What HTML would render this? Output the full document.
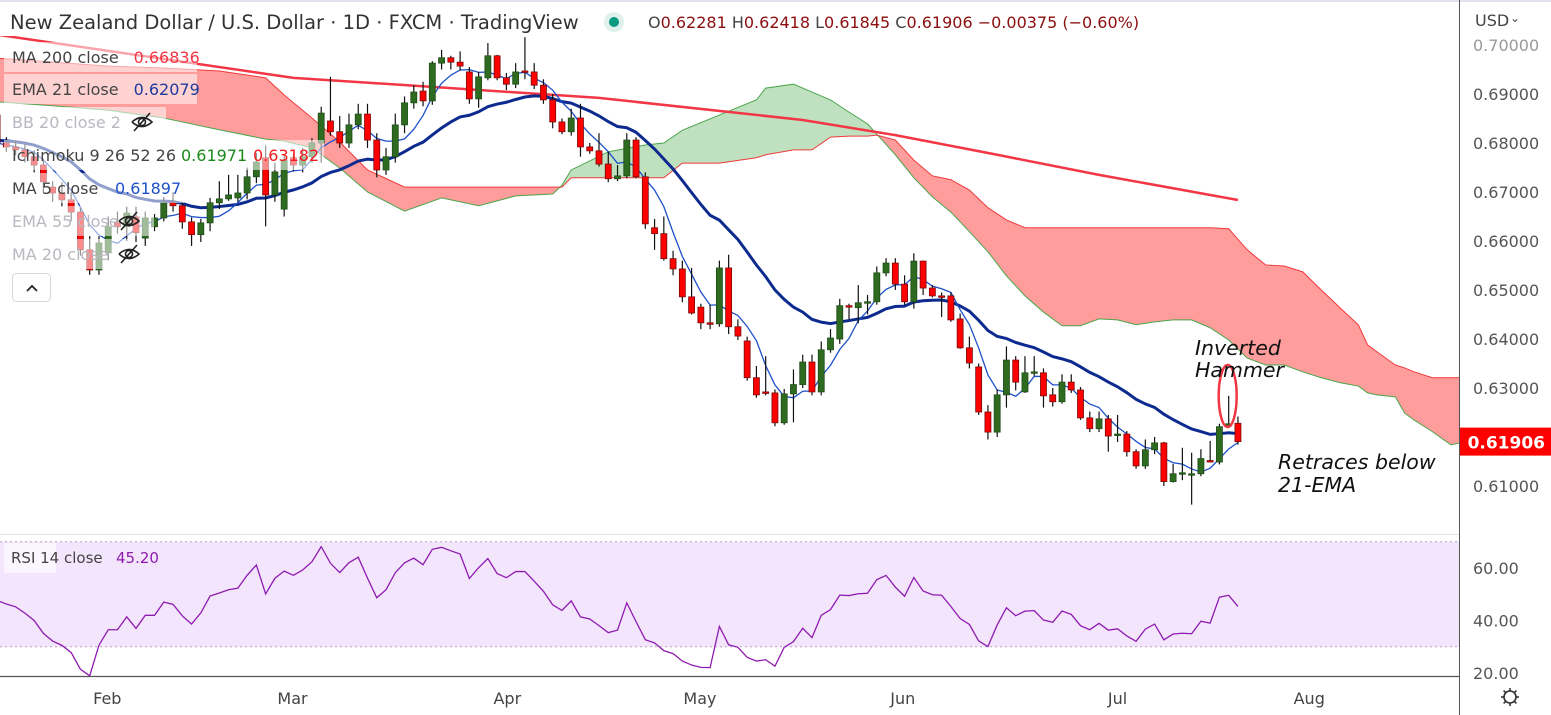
<!DOCTYPE html>
<html><head><meta charset="utf-8">
<style>
html,body{margin:0;padding:0;background:#fff;}
body{width:1551px;height:715px;overflow:hidden;position:relative;font-family:"Liberation Sans",sans-serif;}
svg{position:absolute;left:0;top:0;}
text{font-family:"DejaVu Sans","Liberation Sans",sans-serif;}
</style></head>
<body>
<svg id="chart" width="1551" height="715" viewBox="0 0 1551 715"></svg>
<script>
// ---------- DATA ----------
const opens = [.6857,.6800,.6792,.6786,.6772,.6755,.6710,.6698,.6684,.6659,.6582,.6541,.6576,.6637,.6629,.6649,.6606,.6629,.6647,.6678,.6672,.6639,.6613,.6637,.6678,.6686,.6688,.6698,.6731,.6770,.6694,.6665,.6770,.6755,.6772,.6800,.6845,.6823,.6800,.6837,.6859,.6806,.6745,.6772,.6837,.6882,.6906,.6886,.6963,.6974,.6965,.6945,.6890,.6933,.6978,.6933,.6920,.6947,.6945,.6918,.6888,.6843,.6823,.6851,.6792,.6784,.6757,.6727,.6733,.6806,.6731,.6627,.6615,.6564,.6543,.6486,.6465,.6433,.6431,.6545,.6425,.6396,.6321,.6292,.6290,.6229,.6288,.6307,.6353,.6292,.6378,.6400,.6468,.6464,.6474,.6476,.6535,.6555,.6512,.6476,.6559,.6504,.6488,.6488,.6441,.6382,.6343,.6251,.6210,.6286,.6357,.6292,.6331,.6331,.6286,.6272,.6312,.6296,.6239,.6217,.6237,.6204,.6206,.6170,.6141,.6174,.6188,.6109,.6127,.6125,.6125,.6152,.6149,.6223,.6228];
const closes = [.6800,.6792,.6786,.6772,.6755,.6721,.6698,.6684,.6659,.6582,.6541,.6596,.6629,.6629,.6657,.6617,.6647,.6647,.6678,.6672,.6639,.6613,.6637,.6678,.6686,.6694,.6698,.6731,.6761,.6694,.6741,.6765,.6755,.6772,.6800,.6861,.6823,.6800,.6837,.6859,.6806,.6745,.6772,.6837,.6882,.6904,.6886,.6963,.6974,.6965,.6957,.6890,.6935,.6978,.6933,.6920,.6945,.6945,.6918,.6888,.6843,.6823,.6851,.6792,.6784,.6757,.6727,.6733,.6806,.6731,.6635,.6615,.6564,.6543,.6486,.6453,.6433,.6431,.6545,.6425,.6406,.6321,.6286,.6290,.6229,.6288,.6307,.6353,.6292,.6378,.6402,.6468,.6466,.6474,.6476,.6535,.6555,.6512,.6476,.6559,.6504,.6488,.6486,.6439,.6382,.6351,.6251,.6210,.6286,.6357,.6312,.6331,.6333,.6284,.6272,.6312,.6296,.6239,.6217,.6237,.6202,.6206,.6170,.6141,.6174,.6188,.6109,.6125,.6127,.6125,.6156,.6149,.6221,.6227,.61906];
const highs = [.6870,.6812,.6805,.6798,.6785,.6768,.6722,.6720,.6700,.6668,.6610,.6610,.6650,.6660,.6670,.6670,.6660,.6655,.6690,.6700,.6680,.6648,.6645,.6688,.6722,.6735,.6735,.6750,.6780,.6795,.6760,.6775,.6778,.6790,.6810,.6874,.6935,.6855,.6860,.6880,.6880,.6820,.6790,.6860,.6895,.6918,.6925,.6967,.6990,.6978,.6987,.6955,.6945,.7004,.6980,.6943,.6963,.7016,.6963,.6930,.6900,.6850,.6870,.6880,.6800,.6820,.6782,.6755,.6820,.6812,.6740,.6645,.6650,.6580,.6560,.6545,.6472,.6470,.6560,.6572,.6440,.6405,.6345,.6365,.6297,.6298,.6338,.6368,.6368,.6395,.6420,.6482,.6472,.6510,.6490,.6548,.6565,.6565,.6530,.6575,.6560,.6510,.6495,.6495,.6452,.6405,.6350,.6265,.6297,.6385,.6365,.6365,.6365,.6340,.6300,.6328,.6328,.6302,.6252,.6252,.6245,.6245,.6212,.6175,.6195,.6200,.6190,.6145,.6178,.6168,.6175,.6192,.6227,.6284,.62418];
const lows = [.6790,.6782,.6775,.6760,.6740,.6700,.6680,.6670,.6640,.6570,.6531,.6531,.6560,.6615,.6600,.6598,.6590,.6620,.6640,.6660,.6625,.6590,.6598,.6620,.6665,.6682,.6680,.6685,.6718,.6630,.6680,.6650,.6742,.6740,.6760,.6760,.6815,.6790,.6790,.6828,.6790,.6730,.6735,.6760,.6820,.6870,.6875,.6878,.6950,.6950,.6948,.6880,.6872,.6928,.6928,.6908,.6912,.6930,.6910,.6880,.6830,.6818,.6815,.6772,.6778,.6752,.6720,.6722,.6728,.6728,.6625,.6582,.6560,.6530,.6475,.6450,.6420,.6420,.6425,.6410,.6398,.6315,.6280,.6285,.6222,.6225,.6230,.6300,.6285,.6285,.6372,.6390,.6440,.6432,.6450,.6470,.6528,.6500,.6470,.6462,.6490,.6485,.6445,.6435,.6380,.6340,.6245,.6195,.6200,.6260,.6295,.6290,.6325,.6260,.6262,.6268,.6290,.6235,.6210,.6210,.6170,.6190,.6160,.6135,.6135,.6165,.6100,.6107,.6112,.6062,.6120,.6148,.6144,.6222,.61845];
// Ichimoku cloud samples (bar index, span A, span B)
const cloudIdx = [0,6,12,18,20,24,29,31,34,37,40,44,48,52,56,60,61,62,66,70,72,74,78,82,83,86,88,90,92,94,95,97,99,101,103,105,107,109,111,113,115,117,119,121,123,125,127,129,131,133,135,137,139,141,143,145,147,148,149,151,152,153,155,157,158];
const spanA = [.6884,.6876,.6867,.6851,.6843,.6827,.6808,.6804,.6790,.6749,.6700,.6661,.6688,.6672,.6692,.6696,.6714,.6745,.6782,.6796,.6800,.6826,.6857,.6888,.6912,.6920,.6904,.6888,.6863,.6839,.6818,.6776,.6729,.6690,.6659,.6619,.6578,.6529,.6488,.6455,.6427,.6427,.6441,.6439,.6429,.6435,.6439,.6439,.6423,.6398,.6361,.6347,.6347,.6333,.6321,.6311,.6304,.6290,.6286,.6282,.6249,.6235,.6211,.6184,.6188];
const spanB = [.6973,.6965,.6957,.6953,.6951,.6947,.6933,.6898,.6851,.6802,.6745,.6710,.6710,.6710,.6710,.6710,.6710,.6729,.6729,.6729,.6729,.6759,.6759,.6770,.6776,.6786,.6786,.6812,.6814,.6814,.6816,.6806,.6765,.6733,.6725,.6704,.6668,.6643,.6627,.6627,.6627,.6627,.6627,.6627,.6627,.6627,.6627,.6627,.6627,.6625,.6582,.6551,.6549,.6537,.6500,.6464,.6429,.6388,.6374,.6347,.6341,.6333,.6321,.6321,.6321];
// MA 200 samples
const ma200Idx = [0,32,49,65,87,97,108,119,134];
const ma200Val = [.7021,.6933,.6912,.6892,.6847,.6816,.6776,.6735,.66836];
const priceTicks = [0.70,0.69,0.68,0.67,0.66,0.65,0.64,0.63,0.61];
const rsiTicks = [60,40,20];
const monthLabels = ["Feb","Mar","Apr","May","Jun","Jul","Aug"];
const monthIdx = [11.9,31.9,55.1,75.9,97.8,121,141.7];

// ---------- SCALES ----------
const NS="http://www.w3.org/2000/svg";
const svg=document.getElementById('chart');
const X0=-2.9, DX=9.26;
const xOf=i=>X0+i*DX;
const yP=p=>45+(0.70-p)*4900;
const yR=v=>568+(60-v)*2.625;
function el(tag,attrs,parent){const e=document.createElementNS(NS,tag);for(const k in attrs)e.setAttribute(k,attrs[k]);(parent||svg).appendChild(e);return e;}

const defs=el('defs',{});
const cp=el('clipPath',{id:'pclip'},defs);el('rect',{x:0,y:36,width:1459,height:498},cp);
const cr=el('clipPath',{id:'rclip'},defs);el('rect',{x:0,y:536,width:1459,height:140},cr);

el('rect',{x:0,y:0,width:1551,height:2,fill:'#e0e3eb'});

const pg=el('g',{'clip-path':'url(#pclip)'});



// ---- cloud ----
const cloudG=el('g',{},pg);


for(let k=0;k<cloudIdx.length-1;k++){
  const xa=xOf(cloudIdx[k]),xb=xOf(cloudIdx[k+1]);
  const a1=spanA[k],a2=spanA[k+1],b1=spanB[k],b2=spanB[k+1];
  const d1=a1-b1,d2=a2-b2;
  const col=d=>d>=0?'#bfe1bf':'#ff9c9c';
  if(d1*d2>=0){
    el('polygon',{points:`${xa},${yP(a1)} ${xb},${yP(a2)} ${xb},${yP(b2)} ${xa},${yP(b1)}`,fill:col(d1+d2),stroke:col(d1+d2),'stroke-width':0.6},cloudG);
  }else{
    const t=d1/(d1-d2);const xm=xa+(xb-xa)*t;const pm=a1+(a2-a1)*t;
    el('polygon',{points:`${xa},${yP(a1)} ${xm},${yP(pm)} ${xa},${yP(b1)}`,fill:col(d1)},cloudG);
    el('polygon',{points:`${xm},${yP(pm)} ${xb},${yP(a2)} ${xb},${yP(b2)}`,fill:col(d2)},cloudG);
  }
}
el('polyline',{points:cloudIdx.map((c,k)=>`${xOf(c)},${yP(spanA[k])}`).join(' '),fill:'none',stroke:'#4ca64c','stroke-width':1},cloudG);
el('polyline',{points:cloudIdx.map((c,k)=>`${xOf(c)},${yP(spanB[k])}`).join(' '),fill:'none',stroke:'#f03c3c','stroke-width':1},cloudG);

// ---- MA200 ----
const ma200=el('polyline',{points:ma200Idx.map((c,k)=>`${xOf(c)},${yP(ma200Val[k])}`).join(' '),fill:'none',stroke:'#f23645','stroke-width':2.5},pg);



// ---- EMA21 & MA5 ----
let ema=0.6806;const emaPts=[];const k21=2/22;
closes.forEach((c,i)=>{ema=ema+(c-ema)*k21;emaPts.push(`${xOf(i)},${yP(ema)}`);});
const emaL=el('polyline',{points:emaPts.join(' '),fill:'none',stroke:'#0d2a8f','stroke-width':3},pg);


const maPts=[];
closes.forEach((c,i)=>{const s=closes.slice(Math.max(0,i-4),i+1);const m=s.reduce((a,b)=>a+b,0)/s.length;maPts.push(`${xOf(i)},${yP(m)}`);});
const maL=el('polyline',{points:maPts.join(' '),fill:'none',stroke:'#1e50c8','stroke-width':1.3},pg);



// ---- candles ----
const cg=el('g',{},pg);


closes.forEach((c,i)=>{
  const o=opens[i],x=xOf(i),up=c>=o;
  const g=el('g',{},cg);
  
  
  el('line',{x1:x,x2:x,y1:yP(highs[i]),y2:yP(lows[i]),stroke:'#111','stroke-width':1.2},g);
  const t=yP(Math.max(o,c)),b=yP(Math.min(o,c));
  el('rect',{x:x-3,y:t,width:6,height:Math.max(b-t,1.5),fill:up?'#2e6b21':'#ff0000',stroke:up?'#1f4d17':'#7a0a0a','stroke-width':0.8},g);
});

// ---- annotations ----
const ell=el('ellipse',{cx:xOf(133)-1,cy:396,rx:9,ry:31,fill:'none',stroke:'#f23645','stroke-width':2.5});


function txt(s,x,y,attrs,name){const t=el('text',Object.assign({x:x,y:y},attrs));t.textContent=s;return t;}
const ann={'font-size':20.5,'font-style':'italic',fill:'#111'};
txt('Inverted',1195,355,ann,'annotation-inverted');
txt('Hammer',1195,377,ann,'annotation-hammer');
txt('Retraces below',1278,469,ann,'annotation-retraces');
txt('21-EMA',1278,492,ann,'annotation-21ema');
txt('RSI below 50',1297,600,ann,'annotation-rsi-below-50');
const arrow=el('g',{stroke:'#f23645','stroke-width':1.6,fill:'none'});


el('line',{x1:1253,y1:570,x2:1264,y2:624},arrow);
el('polyline',{points:'1251,612 1264,625 1270,608'},arrow);

// ---- legend ----
const legend=[['MA 200 close','0.66836','#f23645',57,1],['EMA 21 close','0.62079','#1e3a9c',89,1],['BB 20 close 2','',null,122,0],['Ichimoku 9 26 52 26','',null,155,1],['MA 5 close','0.61897','#1e50c8',188,1],['EMA 55 close','',null,221,0],['MA 20 close','',null,254,0]];
const lwidths=[193,193,162,320,180,150,125];
legend.forEach((L,k)=>{
  const g=el('g',{});
  
  
  el('rect',{x:4,y:L[3]-15,width:lwidths[k],height:30,fill:'rgba(255,255,255,0.55)'},g);
  const t=el('text',{x:12,y:L[3]+6,'font-size':16,fill:L[4]?'#444':'#b8b8c0'},g);t.textContent=L[0];
  if(L[1]){const v=el('text',{x:L[0].length*9.3+22,y:L[3]+6,'font-size':16,fill:L[2]},g);v.textContent=L[1];}
});
const ich1=el('text',{x:181,y:161,'font-size':16,fill:'#1a8a1a'});ich1.textContent='0.61971';

const ich2=el('text',{x:253,y:161,'font-size':16,fill:'#f21a1a'});ich2.textContent='0.63182';

[[142,122],[129,221],[129,254]].forEach(p=>{
  const g=el('g',{fill:'none',stroke:'#222','stroke-width':1.6});
  
  
  el('path',{d:`M${p[0]-10},${p[1]} Q${p[0]},${p[1]-9} ${p[0]+10},${p[1]} Q${p[0]},${p[1]+9} ${p[0]-10},${p[1]}`},g);
  el('circle',{cx:p[0],cy:p[1],r:3.5},g);
  el('line',{x1:p[0]-8,y1:p[1]+9,x2:p[0]+8,y2:p[1]-9},g);
});
const btn=el('g',{});


el('rect',{x:12.5,y:273.5,width:38,height:28,rx:4,fill:'#fff',stroke:'#d6d8de'},btn);
el('polyline',{points:'27,291 32,286 37,291',fill:'none',stroke:'#222','stroke-width':1.8},btn);

// ---- panes separators & axes ----
el('line',{x1:0,x2:1459,y1:534.5,y2:534.5,stroke:'#e0e3eb','stroke-width':1});
el('line',{x1:1459.5,x2:1459.5,y1:0,y2:715,stroke:'#555','stroke-width':1});
el('line',{x1:0,x2:1459,y1:676.5,y2:676.5,stroke:'#555','stroke-width':1.2});

priceTicks.forEach(p=>{txt(p.toFixed(5),1473,yP(p)+6,{'font-size':16,fill:p===0.70?'#999':'#555'},'price-tick');});
const usd=txt('USD',1475,26,{'font-size':16,fill:'#444'},'currency-selector');
txt('⌄',1510,22,{'font-size':12,fill:'#444'},'currency-chevron');
const lp=el('g',{});
el('rect',{x:1460,y:yP(closes[closes.length-1])-14,width:91,height:28,fill:'#ff0000'},lp);
const lpt=el('text',{x:1545,y:yP(closes[closes.length-1])+7,'font-size':17,'font-weight':'bold',fill:'#fff','text-anchor':'end'},lp);lpt.textContent=closes[closes.length-1].toFixed(5);

// ---- RSI pane ----
const rg=el('g',{'clip-path':'url(#rclip)'});


el('rect',{x:0,y:yR(70),width:1459,height:yR(30)-yR(70),fill:'#f3e5fc'},rg);
el('line',{x1:0,x2:1459,y1:yR(70),y2:yR(70),stroke:'#b5a3be','stroke-dasharray':'2,3'},rg);
el('line',{x1:0,x2:1459,y1:yR(30),y2:yR(30),stroke:'#b5a3be','stroke-dasharray':'2,3'},rg);
let ag=0.0010,al=0.0011;const rsiPts=[];
closes.forEach((c,i)=>{if(i>0){const d=c-closes[i-1];ag=(ag*13+Math.max(d,0))/14;al=(al*13+Math.max(-d,0))/14;}
  const r=100-100/(1+ag/al);rsiPts.push(`${xOf(i)},${yR(r)}`);});
const rl=el('polyline',{points:rsiPts.join(' '),fill:'none',stroke:'#8e1bb0','stroke-width':1.3},rg);

const rlg=el('g',{});
el('rect',{x:4,y:543,width:52,height:30,fill:'rgba(255,255,255,0.6)'},rlg);
const r1=el('text',{x:11,y:563,'font-size':15,fill:'#444'},rlg);r1.textContent='RSI 14 close';
const r2=el('text',{x:116,y:563,'font-size':15,fill:'#8e1bb0'},rlg);r2.textContent='45.20';
rsiTicks.forEach(v=>txt(v.toFixed(2),1473,yR(v)+6,{'font-size':16,fill:'#555'},'rsi-tick'));

// ---- time axis ----
monthLabels.forEach((m,k)=>txt(m,xOf(monthIdx[k]),704,{'font-size':16,fill:'#444','text-anchor':'middle'},'month-label'));
const gear=el('g',{fill:'none',stroke:'#333','stroke-width':1.6});

el('circle',{cx:1510,cy:697,r:6},gear);
[[0,-9,0,-6],[0,6,0,9],[-9,0,-6,0],[6,0,9,0],[-6.4,-6.4,-4.2,-4.2],[4.2,4.2,6.4,6.4],[-6.4,6.4,-4.2,4.2],[4.2,-4.2,6.4,-6.4]].forEach(s=>el('line',{x1:1510+s[0],y1:697+s[1],x2:1510+s[2],y2:697+s[3]},gear));

// ---- header ----
const hd=el('g',{});
el('rect',{x:0,y:3,width:1455,height:32,fill:'rgba(255,255,255,0.7)'},hd);
const ht=el('text',{x:10,y:29,'font-size':19.5,fill:'#333'},hd);
ht.textContent='New Zealand Dollar / U.S. Dollar · 1D · FXCM · TradingView';
el('circle',{cx:614,cy:22,r:10,fill:'#dff1ec'},hd);
el('circle',{cx:614,cy:22,r:5,fill:'#089981'},hd);
const oh=el('text',{x:648,y:28,'font-size':16,fill:'#444'},hd);
[['O','#444'],['0.62281 ','#8b0e0e'],['H','#444'],['0.62418 ','#8b0e0e'],['L','#444'],['0.61845 ','#8b0e0e'],['C','#444'],['0.61906 −0.00375 (−0.60%)','#8b0e0e']].forEach(s=>{const ts=el('tspan',{fill:s[1]},oh);ts.textContent=s[0];});
</script>
</body></html>
